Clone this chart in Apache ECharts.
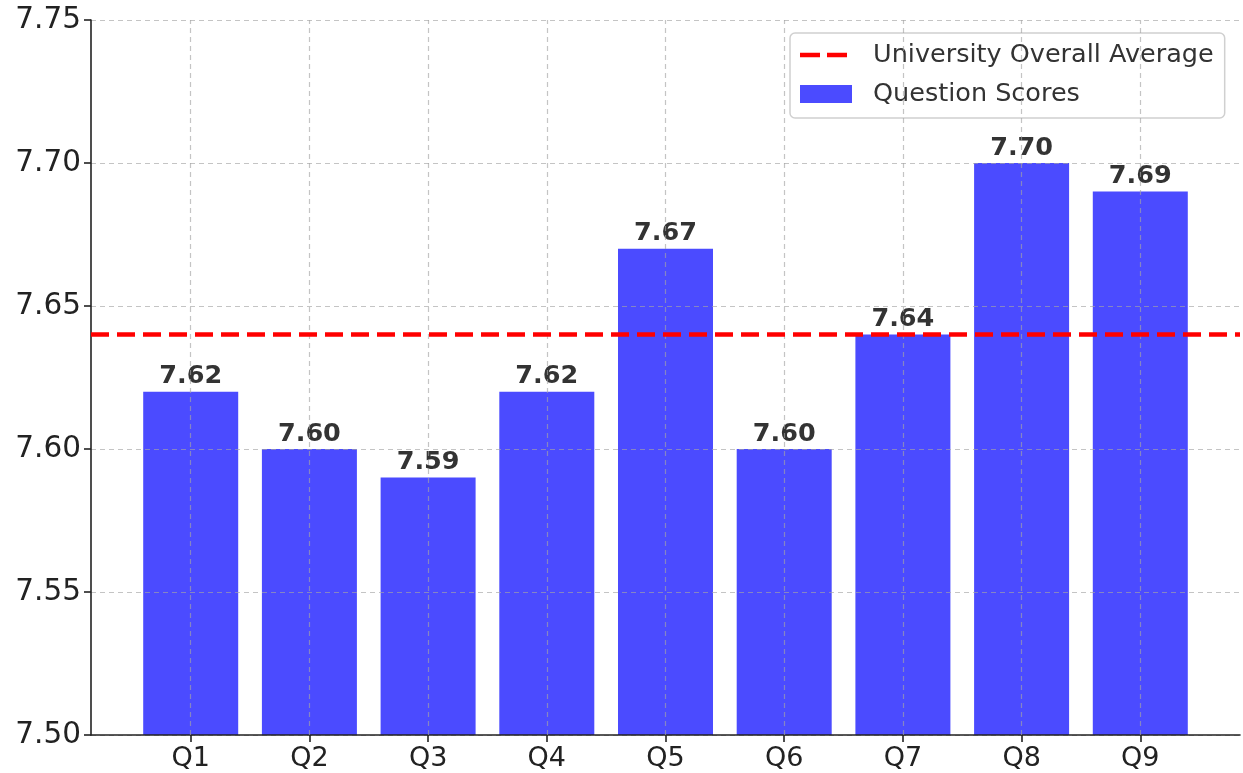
<!DOCTYPE html>
<html>
<head>
<meta charset="utf-8">
<script src="https://cdn.jsdelivr.net/npm/echarts@6/dist/echarts.min.js"></script>
<style>html,body{margin:0;padding:0;background:#fff;}#c{width:1243px;height:773px;}</style>
</head>
<body>
<div id="c"></div>
<script>
const categories = ['Q1','Q2','Q3','Q4','Q5','Q6','Q7','Q8','Q9'];
const scores = [7.62, 7.60, 7.59, 7.62, 7.67, 7.60, 7.64, 7.70, 7.69];
const overallAverage = 7.64;
const yTicks = [7.50, 7.55, 7.60, 7.65, 7.70, 7.75];

const positions = categories.map((_, i) => i);
const barData = scores.map((v, i) => [positions[i], v]);
const xMin = -0.84, xMax = categories.length - 1 + 0.84;
const font = 'DejaVu Sans';
const dashIcon = 'path://M0,0 L0,0 M52,18 L52,18 M0,6.8 H20 V11.2 H0 Z M27,6.8 H47 V11.2 H27 Z';

const chart = echarts.init(document.getElementById('c'), null, {renderer: 'canvas'});
chart.setOption({
  animation: false,
  backgroundColor: '#fff',
  textStyle: {fontFamily: font},
  grid: {left: 91, right: 3, top: 20, bottom: 38, containLabel: false},
  legend: {
    orient: 'vertical',
    left: 790, top: 33,
    data: [
      {name: 'University Overall Average', icon: dashIcon},
      {name: 'Question Scores', icon: 'rect'}
    ],
    backgroundColor: '#fff',
    borderColor: '#d0d0d0',
    borderWidth: 1.5,
    borderRadius: 5,
    padding: [9, 11, 11, 10],
    itemWidth: 52, itemHeight: 18, itemGap: 13,
    textStyle: {fontFamily: font, fontSize: 25.5, lineHeight: 26, color: '#333', padding: [0, 0, 0, 16]}
  },
  xAxis: {
    type: 'value', min: xMin, max: xMax,
    axisLine: {show: true, onZero: false, lineStyle: {color: '#222', width: 1.6}},
    axisTick: {show: true, customValues: positions, length: 7, lineStyle: {color: '#222', width: 1.6}},
    axisLabel: {customValues: positions, formatter: v => categories[Math.round(v)], fontSize: 27, color: '#222', margin: 10, fontFamily: font},
    splitLine: {show: false},
    z: 3
  },
  yAxis: {
    type: 'value', min: yTicks[0], max: yTicks[yTicks.length - 1], interval: 0.05,
    axisLine: {show: true, onZero: false, lineStyle: {color: '#222', width: 1.6}},
    axisTick: {show: true, length: 7, lineStyle: {color: '#222', width: 1.6}},
    axisLabel: {formatter: v => v.toFixed(2), fontSize: 29.5, color: '#222', margin: 10, fontFamily: font},
    splitLine: {show: true, lineStyle: {color: 'rgba(165,165,165,0.65)', type: [5, 4], width: 1.2}},
    z: 3
  },
  series: [
    {
      name: 'Question Scores', type: 'bar', data: barData, barWidth: 95,
      itemStyle: {color: '#4B4BFF'},
      label: {show: true, position: 'top', distance: 2, formatter: p => p.value[1].toFixed(2),
        fontFamily: font, fontWeight: 'bold', fontSize: 25.5, color: '#333'},
      z: 2
    },
    {
      name: 'grid-x', type: 'line', data: [], silent: true, z: 3,
      markLine: {silent: true, symbol: 'none', label: {show: false},
        lineStyle: {color: 'rgba(165,165,165,0.65)', type: [5, 4], width: 1.2},
        data: positions.map(p => ({xAxis: p}))}
    },
    {
      name: 'University Overall Average', type: 'line',
      data: [[xMin, overallAverage], [xMax, overallAverage]],
      symbol: 'none', z: 5,
      lineStyle: {color: '#FF0000', width: 4.5, type: [18, 8]},
      itemStyle: {color: '#FF0000'}
    }
  ]
});
</script>
</body>
</html>
